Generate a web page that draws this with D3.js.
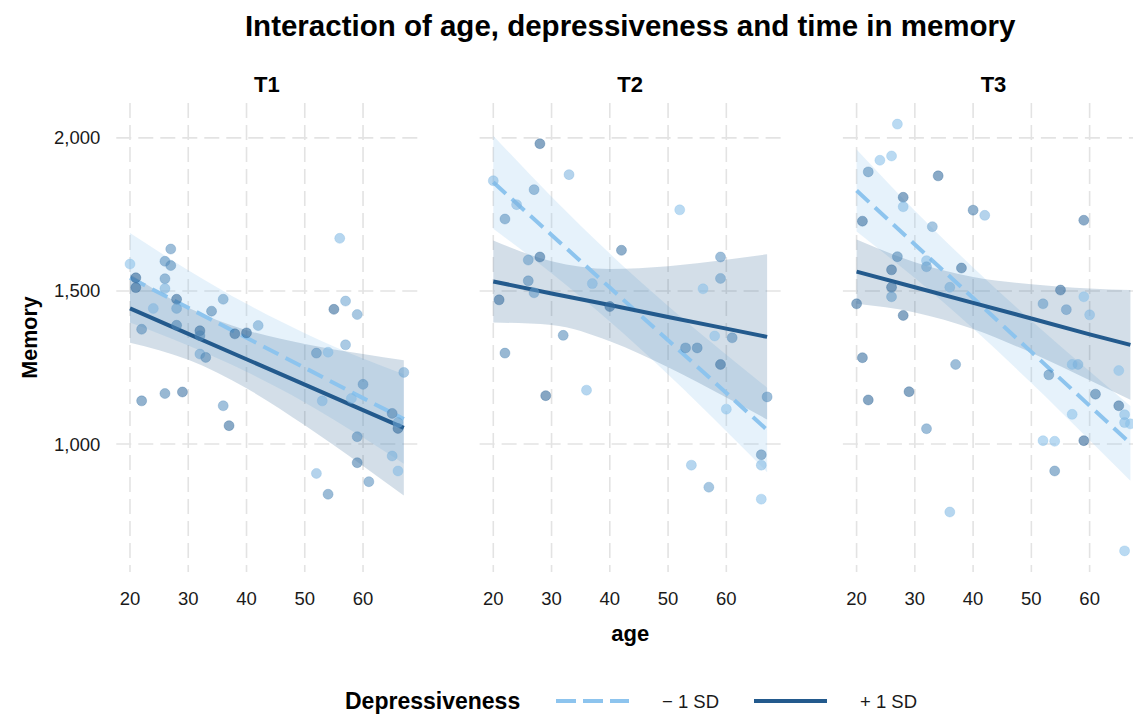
<!DOCTYPE html>
<html>
<head>
<meta charset="utf-8">
<script src="https://cdn.jsdelivr.net/npm/d3@7"></script>
<style>
  body { margin: 0; background: #fff; }
  svg text { font-family: "Liberation Sans", Arial, Helvetica, sans-serif; }
</style>
</head>
<body>
<div id="chart"></div>
<script>
// facets
const facets = ["T1", "T2", "T3"];

// observed points per time (age, memory, depressiveness 0..1)
const ageT1 = [20, 21, 21, 27, 26, 27, 26, 26, 28, 24, 28, 22, 28, 32, 32, 34, 36, 38, 40, 42, 32, 33, 56, 57, 55, 59, 57, 52, 54, 22, 26, 29, 36, 37, 53, 58, 60, 67, 65, 66, 66, 59, 65, 66, 59, 61, 52, 54];
const memT1 = [1588, 1543, 1511, 1637, 1597, 1583, 1540, 1508, 1473, 1443, 1443, 1375, 1388, 1370, 1354, 1434, 1473, 1360, 1363, 1387, 1294, 1283, 1672, 1467, 1440, 1423, 1324, 1297, 1300, 1141, 1165, 1170, 1125, 1060, 1141, 1149, 1195, 1234, 1100, 1051, 1070, 1024, 961, 912, 939, 877, 904, 836];
const depT1 = [0.05, 0.95, 0.9, 0.5, 0.5, 0.55, 0.5, 0.2, 0.9, 0.15, 0.35, 0.55, 0.6, 0.85, 0.6, 0.6, 0.4, 0.85, 0.9, 0.3, 0.3, 0.6, 0.1, 0.3, 0.9, 0.35, 0.3, 0.5, 0.1, 0.7, 0.6, 0.8, 0.45, 0.85, 0.15, 0.1, 0.5, 0.3, 0.65, 0.9, 0.3, 0.55, 0.2, 0.1, 0.7, 0.5, 0.15, 0.55];

const ageT2 = [20, 28, 33, 27, 24, 22, 52, 42, 28, 26, 59, 59, 26, 27, 37, 56, 21, 40, 32, 22, 53, 55, 58, 61, 29, 36, 59, 67, 60, 66, 66, 54, 57, 66];
const memT2 = [1860, 1981, 1880, 1831, 1782, 1735, 1765, 1633, 1611, 1601, 1611, 1541, 1533, 1494, 1524, 1507, 1471, 1449, 1355, 1297, 1314, 1314, 1353, 1347, 1158, 1176, 1260, 1154, 1114, 965, 931, 931, 859, 820];
const depT2 = [0.1, 0.9, 0.15, 0.45, 0.15, 0.5, 0.05, 0.75, 0.85, 0.4, 0.5, 0.4, 0.55, 0.4, 0.15, 0.05, 0.85, 0.85, 0.55, 0.6, 0.55, 0.6, 0.05, 0.55, 0.9, 0.1, 0.85, 0.5, 0.05, 0.6, 0.1, 0.1, 0.35, 0.05];

const ageT3 = [27, 24, 26, 22, 34, 28, 28, 40, 42, 59, 21, 33, 27, 26, 32, 32, 38, 26, 26, 36, 20, 28, 55, 52, 56, 59, 60, 21, 22, 29, 37, 32, 36, 57, 58, 53, 65, 61, 65, 66, 66, 67, 57, 52, 54, 59, 54, 66];
const memT3 = [2045, 1927, 1941, 1889, 1876, 1806, 1775, 1764, 1747, 1731, 1728, 1710, 1612, 1569, 1599, 1579, 1575, 1512, 1481, 1512, 1458, 1420, 1503, 1458, 1439, 1481, 1422, 1282, 1144, 1171, 1260, 1050, 778, 1260, 1260, 1226, 1240, 1163, 1125, 1096, 1070, 1066, 1097, 1011, 1009, 1011, 912, 651];
const depT3 = [0.05, 0.05, 0.05, 0.55, 0.85, 0.85, 0.1, 0.7, 0.15, 0.8, 0.85, 0.35, 0.6, 0.85, 0.1, 0.35, 0.85, 0.85, 0.4, 0.25, 0.85, 0.9, 0.85, 0.4, 0.45, 0.05, 0.1, 0.85, 0.9, 0.9, 0.5, 0.5, 0.1, 0.1, 0.2, 0.55, 0.05, 0.75, 0.85, 0.1, 0.1, 0.05, 0.05, 0.05, 0.05, 0.95, 0.6, 0.05];

// model predictions, at these ages
const fitAges = [20, 30, 40, 50, 60, 67];
// -1 SD: fit, lower, upper
const lowFitT1 = [1543, 1445, 1347, 1249, 1150, 1082];
const lowLoT1 = [1397, 1322, 1236, 1136, 1021, 936];
const lowHiT1 = [1689, 1568, 1458, 1362, 1279, 1228];
const lowFitT2 = [1855, 1683, 1511, 1339, 1167, 1046];
const lowLoT2 = [1703, 1558, 1400, 1227, 1042, 908];
const lowHiT2 = [2007, 1808, 1622, 1451, 1292, 1184];
const lowFitT3 = [1828, 1652, 1477, 1301, 1125, 1002];
const lowLoT3 = [1694, 1542, 1377, 1199, 1012, 880];
const lowHiT3 = [1962, 1762, 1577, 1403, 1238, 1124];
// +1 SD: fit, lower, upper
const highFitT1 = [1443, 1360, 1277, 1194, 1111, 1053];
const highLoT1 = [1331, 1275, 1182, 1061, 928, 832];
const highHiT1 = [1555, 1445, 1372, 1327, 1294, 1274];
const highFitT2 = [1531, 1492, 1454, 1415, 1377, 1350];
const highLoT2 = [1397, 1389, 1336, 1251, 1152, 1080];
const highHiT2 = [1665, 1597, 1572, 1581, 1602, 1620];
const highFitT3 = [1563, 1512, 1461, 1410, 1358, 1324];
const highLoT3 = [1458, 1430, 1376, 1298, 1208, 1145];
const highHiT3 = [1668, 1594, 1546, 1522, 1508, 1503];

const xTicks = [20, 30, 40, 50, 60];
const yTicks = [1000, 1500, 2000];
const groups = ["\u2212 1 SD", "+ 1 SD"];

const panels = [
  {name: facets[0], age: ageT1, mem: memT1, dep: depT1,
   low: [lowFitT1, lowLoT1, lowHiT1], high: [highFitT1, highLoT1, highHiT1]},
  {name: facets[1], age: ageT2, mem: memT2, dep: depT2,
   low: [lowFitT2, lowLoT2, lowHiT2], high: [highFitT2, highLoT2, highHiT2]},
  {name: facets[2], age: ageT3, mem: memT3, dep: depT3,
   low: [lowFitT3, lowLoT3, lowHiT3], high: [highFitT3, highLoT3, highHiT3]}
];

const width = 1133, height = 714;
const panelLeft = 116.3, panelW = 301.2, panelStep = 363.3;
const panelTop = 103, panelBottom = 572;

const lightCol = "#8DC4EE", darkCol = "#235A8D";

const svg = d3.select("#chart").append("svg")
  .attr("width", width)
  .attr("height", height);

const x = d3.scaleLinear().domain([17.65, 69.35]).range([0, panelW]);
const y = d3.scaleLinear().domain([582, 2114]).range([panelBottom, panelTop]);
const depColor = d3.scaleLinear().domain([0, 1]).range([lightCol, darkCol]);

// title
svg.append("text")
  .attr("x", panelLeft + (2 * panelStep + panelW) / 2)
  .attr("y", 36)
  .attr("text-anchor", "middle")
  .attr("font-size", 29.5)
  .attr("font-weight", "bold")
  .attr("fill", "#000")
  .text("Interaction of age, depressiveness and time in memory");

panels.forEach((p, i) => {
  const g = svg.append("g")
    .attr("transform", `translate(${panelLeft + i * panelStep},0)`);

  // grid
  g.selectAll(".gx").data(xTicks).enter().append("line")
    .attr("x1", d => x(d)).attr("x2", d => x(d))
    .attr("y1", panelTop).attr("y2", panelBottom)
    .attr("stroke", "#E3E3E3").attr("stroke-width", 1.6)
    .attr("stroke-dasharray", "15,7");
  g.selectAll(".gy").data(yTicks).enter().append("line")
    .attr("x1", 0).attr("x2", panelW)
    .attr("y1", d => y(d)).attr("y2", d => y(d))
    .attr("stroke", "#E3E3E3").attr("stroke-width", 1.6)
    .attr("stroke-dasharray", "15,7");

  // strip label
  g.append("text")
    .attr("x", panelW / 2).attr("y", 92)
    .attr("text-anchor", "middle")
    .attr("font-size", 22)
    .attr("font-weight", "bold")
    .text(p.name);

  // ribbons
  const band = (lo, hi) => d3.area()
    .x((d, k) => x(fitAges[k]))
    .y0((d, k) => y(lo[k]))
    .y1((d, k) => y(hi[k]))
    .curve(d3.curveMonotoneX)(fitAges);

  g.append("path").attr("d", band(p.low[1], p.low[2]))
    .attr("fill", lightCol).attr("fill-opacity", 0.22);
  g.append("path").attr("d", band(p.high[1], p.high[2]))
    .attr("fill", darkCol).attr("fill-opacity", 0.2);

  // fitted lines
  const line = vals => d3.line()
    .x((d, k) => x(fitAges[k]))
    .y((d, k) => y(vals[k]))(fitAges);

  g.append("path").attr("d", line(p.low[0]))
    .attr("fill", "none").attr("stroke", lightCol)
    .attr("stroke-width", 4).attr("stroke-dasharray", "17,8");
  g.append("path").attr("d", line(p.high[0]))
    .attr("fill", "none").attr("stroke", darkCol)
    .attr("stroke-width", 4);

  // points
  g.selectAll(".pt").data(p.age).enter().append("circle")
    .attr("cx", d => x(d))
    .attr("cy", (d, k) => y(p.mem[k]))
    .attr("r", 5)
    .attr("fill", (d, k) => depColor(p.dep[k]))
    .attr("fill-opacity", 0.58)
    .attr("stroke", (d, k) => depColor(p.dep[k]))
    .attr("stroke-opacity", 0.4)
    .attr("stroke-width", 0.8);

  // x tick labels
  g.selectAll(".xl").data(xTicks).enter().append("text")
    .attr("x", d => x(d)).attr("y", 605)
    .attr("text-anchor", "middle")
    .attr("font-size", 18.5)
    .attr("fill", "#1a1a1a")
    .text(d => d);

  if (i === 0) {
    g.selectAll(".yl").data(yTicks).enter().append("text")
      .attr("x", -16).attr("y", d => y(d))
      .attr("dy", "0.35em")
      .attr("text-anchor", "end")
      .attr("font-size", 18.5)
      .attr("fill", "#1a1a1a")
      .text(d => d3.format(",")(d));
  }
});

// axis titles
svg.append("text")
  .attr("x", panelLeft + panelStep + panelW / 2)
  .attr("y", 641)
  .attr("text-anchor", "middle")
  .attr("font-size", 22)
  .attr("font-weight", "bold")
  .text("age");

svg.append("text")
  .attr("transform", `translate(37,${(panelTop + panelBottom) / 2}) rotate(-90)`)
  .attr("text-anchor", "middle")
  .attr("font-size", 21.5)
  .attr("font-weight", "bold")
  .text("Memory");

// legend
const leg = svg.append("g").attr("transform", "translate(345,709)");
leg.append("text")
  .attr("x", 0).attr("y", 0)
  .attr("font-size", 23)
  .attr("font-weight", "bold")
  .text("Depressiveness");

const keyX = [211, 409];
groups.forEach((lab, k) => {
  leg.append("line")
    .attr("x1", keyX[k]).attr("x2", keyX[k] + 73)
    .attr("y1", -8).attr("y2", -8)
    .attr("stroke", k === 0 ? lightCol : darkCol)
    .attr("stroke-width", 4)
    .attr("stroke-dasharray", k === 0 ? "20,7" : null);
  leg.append("text")
    .attr("x", keyX[k] + 106).attr("y", -1)
    .attr("font-size", 18.5)
    .attr("fill", "#1a1a1a")
    .text(lab);
});
</script>
</body>
</html>
